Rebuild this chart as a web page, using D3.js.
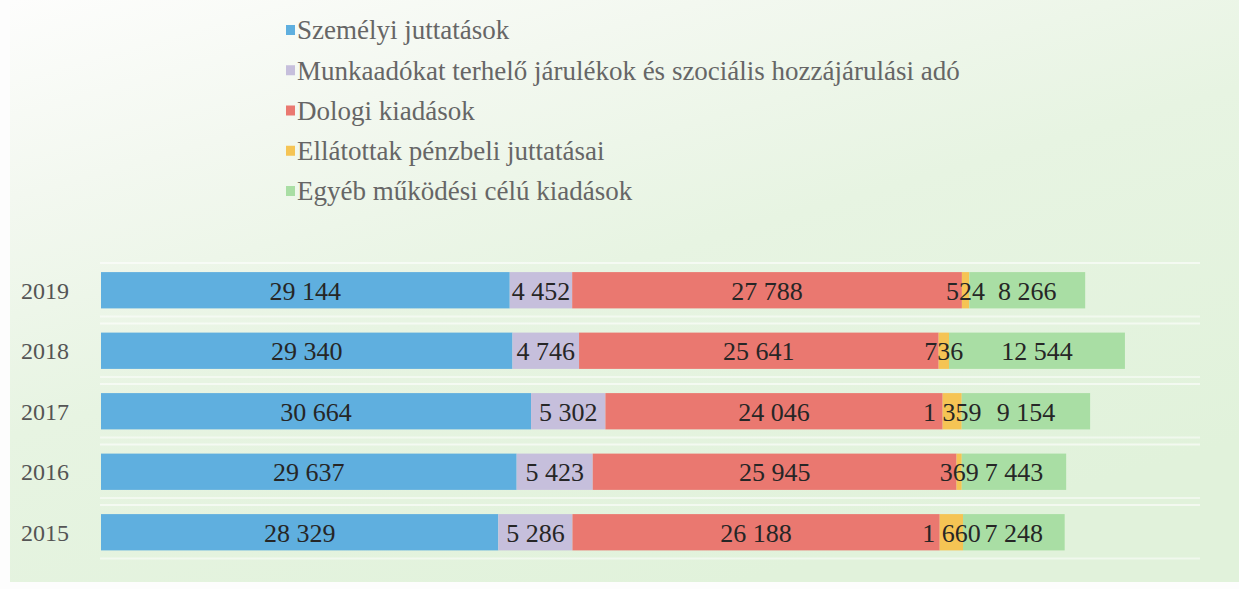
<!DOCTYPE html>
<html>
<head>
<meta charset="utf-8">
<script src="https://cdn.jsdelivr.net/npm/d3@7"></script>
<style>
  html, body { margin: 0; padding: 0; background: #ffffff; }
  svg { display: block; }
</style>
</head>
<body>
<script>
// categories (top to bottom)
let years = ['2019', '2018', '2017', '2016', '2015'];

// series names
let series = [
    'Személyi juttatások',
    'Munkaadókat terhelő járulékok és szociális hozzájárulási adó',
    'Dologi kiadások',
    'Ellátottak pénzbeli juttatásai',
    'Egyéb működési célú kiadások'
];

// values per series, same order as years
let szemelyi = [29144, 29340, 30664, 29637, 28329];
let munkaado = [4452, 4746, 5302, 5423, 5286];
let dologi   = [27788, 25641, 24046, 25945, 26188];
let ellatott = [524, 736, 1359, 369, 1660];
let egyeb    = [8266, 12544, 9154, 7443, 7248];

let colors = ['#5fafdf', '#c6bfdc', '#ea7870', '#f5c454', '#a9dea4'];

let SERIF = '"Liberation Serif", "Times New Roman", "DejaVu Serif", serif';

let W = 1239, H = 589;

let rows = years.map((y, i) => ({
    year: y,
    vals: [szemelyi[i], munkaado[i], dologi[i], ellatott[i], egyeb[i]]
}));

let svg = d3.select('body')
    .append('svg')
    .attr('width', W)
    .attr('height', H);

// scanned-page look: white to pale green
let defs = svg.append('defs');
let grad = defs.append('linearGradient')
    .attr('id', 'bg')
    .attr('x1', '0').attr('y1', '0')
    .attr('x2', '0.6').attr('y2', '1');
grad.append('stop').attr('offset', '0%').attr('stop-color', '#fdfdfc');
grad.append('stop').attr('offset', '25%').attr('stop-color', '#f3f8f0');
grad.append('stop').attr('offset', '55%').attr('stop-color', '#e7f4e2');
grad.append('stop').attr('offset', '100%').attr('stop-color', '#e1f2db');

svg.append('rect')
    .attr('width', W).attr('height', H)
    .attr('fill', '#fdfdfd');
svg.append('rect')
    .attr('x', 10).attr('y', 0)
    .attr('width', W - 10).attr('height', 582)
    .attr('fill', 'url(#bg)');

let x = d3.scaleLinear()
    .domain([0, 80000])
    .range([101, 1223]);

let y = d3.scaleBand()
    .domain(years)
    .range([260, 562.5])
    .paddingInner(0.4)
    .paddingOuter(0.2);

// faint white lines above and below each bar (scan artefacts)
let lines = svg.append('g').attr('id', 'lines');
lines.selectAll('line.top')
    .data(years)
    .enter()
    .append('line')
    .attr('x1', 100).attr('x2', 1200)
    .attr('y1', d => y(d) - 9).attr('y2', d => y(d) - 9)
    .attr('stroke', '#ffffff').attr('stroke-width', 2).attr('opacity', 0.6);
lines.selectAll('line.bot')
    .data(years)
    .enter()
    .append('line')
    .attr('x1', 100).attr('x2', 1200)
    .attr('y1', d => y(d) + y.bandwidth() + 8).attr('y2', d => y(d) + y.bandwidth() + 8)
    .attr('stroke', '#ffffff').attr('stroke-width', 2).attr('opacity', 0.5);

// year axis
let axis = svg.append('g')
    .attr('transform', `translate(${x(0)},0)`)
    .call(d3.axisLeft(y).tickSize(0).tickPadding(32));
axis.select('.domain').remove();
axis.selectAll('text')
    .attr('dy', '0.35em')
    .style('font-family', SERIF)
    .style('font-size', '24px')
    .style('fill', '#555');

let fmt = v => d3.format(',')(v).replace(/,/g, ' ');

let group = svg.append('g').attr('id', 'bars');

let bars = group.selectAll('g')
    .data(rows)
    .enter()
    .append('g');

bars.each(function(d) {
    let g = d3.select(this);
    let acc = 0;
    let segs = d.vals.map((v, k) => {
        let s = { start: acc, end: acc + v, v: v, k: k };
        acc += v;
        return s;
    });
    g.selectAll('rect')
        .data(segs)
        .enter()
        .append('rect')
        .attr('x', s => x(s.start))
        .attr('y', y(d.year))
        .attr('width', s => x(s.end) - x(s.start))
        .attr('height', y.bandwidth())
        .attr('fill', s => colors[s.k]);
    g.selectAll('text')
        .data(segs)
        .enter()
        .append('text')
        .attr('x', s => (x(s.start) + x(s.end)) / 2)
        .attr('y', y(d.year) + y.bandwidth() / 2)
        .attr('dy', '0.36em')
        .attr('text-anchor', 'middle')
        .style('font-family', SERIF)
        .style('font-size', '26px')
        .style('fill', '#262626')
        .text(s => fmt(s.v));
});

// legend
let legY = d3.scalePoint()
    .domain(series)
    .range([30, 191]);

let legend = svg.append('g').attr('id', 'legend');
let items = legend.selectAll('g')
    .data(series)
    .enter()
    .append('g')
    .attr('transform', d => `translate(286, ${legY(d)})`);
items.append('rect')
    .attr('x', 0).attr('y', -5)
    .attr('width', 9).attr('height', 10)
    .attr('fill', (d, i) => colors[i]);
items.append('text')
    .attr('x', 11)
    .attr('dy', '0.35em')
    .style('font-family', SERIF)
    .style('font-size', '27px')
    .style('fill', '#666')
    .text(d => d);
</script>
</body>
</html>
